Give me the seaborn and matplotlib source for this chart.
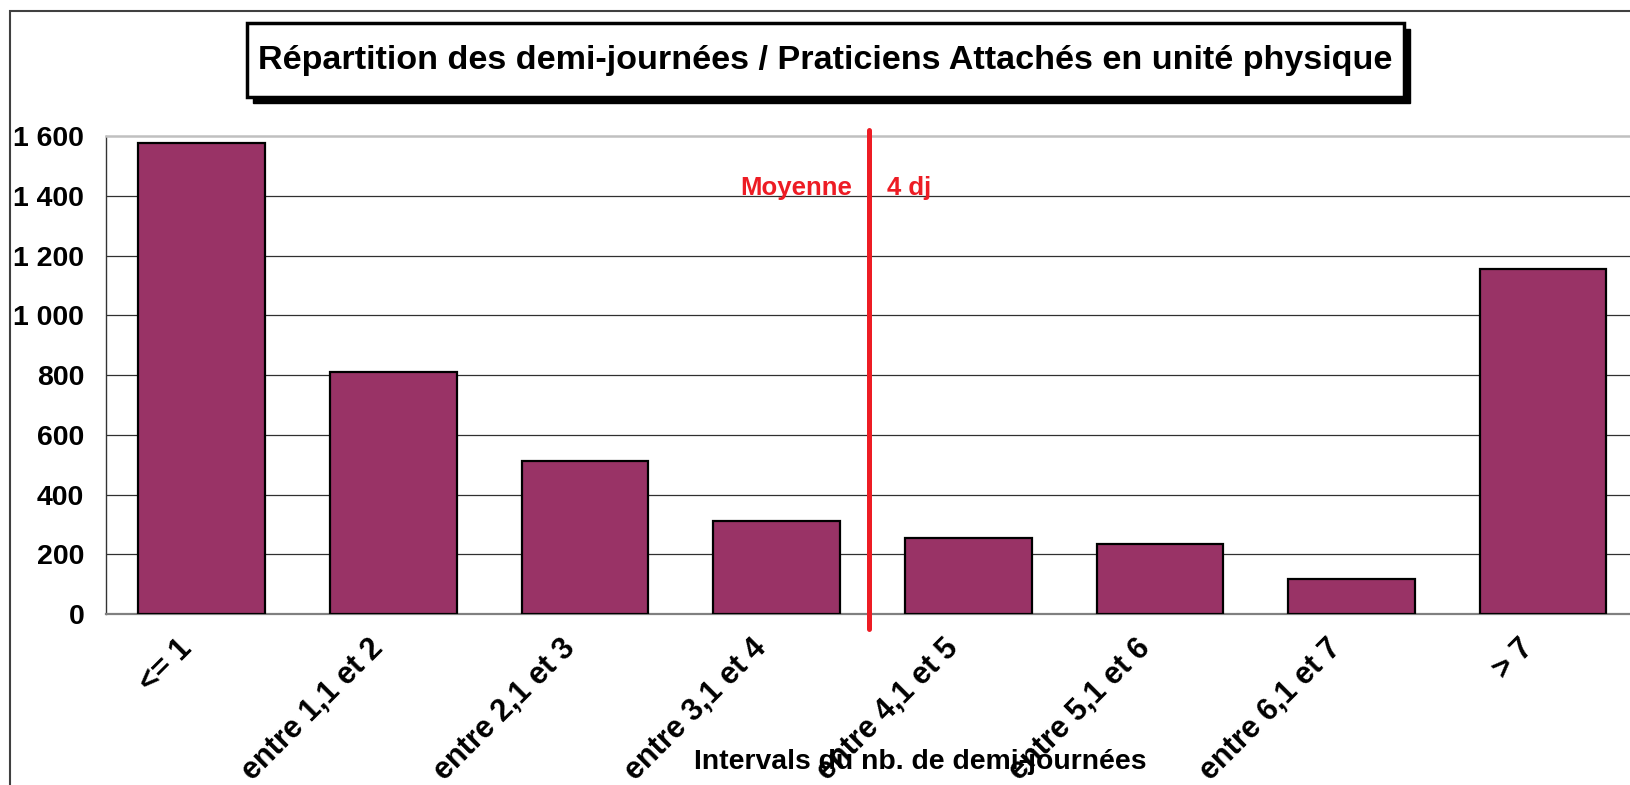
import numpy as np
import matplotlib
matplotlib.use("Agg")
import matplotlib.pyplot as plt
from matplotlib.patches import Rectangle
from matplotlib.ticker import FuncFormatter
from matplotlib.transforms import ScaledTranslation
import seaborn as sns

# data
intervals = ["<= 1", "entre 1,1 et 2", "entre 2,1 et 3", "entre 3,1 et 4",
             "entre 4,1 et 5", "entre 5,1 et 6", "entre 6,1 et 7", "> 7"]
counts = [1576, 809, 511, 310, 253, 236, 116, 1157]
y_ticks = [0, 200, 400, 600, 800, 1000, 1200, 1400, 1600]

title = "Répartition des demi-journées / Praticiens Attachés en unité physique"
xlabel = "Intervals du nb. de demi-journées"
mean_left = "Moyenne"
mean_right = "4 dj"
mean_pos = 3.48          # position of the mean line between categories
mean_span = (-50, 1620)  # vertical extent of the mean line
mean_text_y = 1405

bar_color = "#993366"
red = "#ED1C24"

sns.set_style("white")
plt.rcParams["font.family"] = ["Liberation Sans", "DejaVu Sans"]
plt.rcParams["font.weight"] = "bold"
for k in ["text.color", "axes.labelcolor", "xtick.color", "ytick.color"]:
    plt.rcParams[k] = "black"

W, H = 1630, 785
fig = plt.figure(figsize=(W / 100, H / 100), dpi=100)
ax = fig.add_axes([105.9 / W, 1 - 614 / H, (1639 - 105.9) / W, (614 - 136.3) / H])

sns.barplot(x=intervals, y=counts, color=bar_color, saturation=1,
            edgecolor="black", linewidth=1.6, width=0.66, ax=ax, zorder=3)

ax.set_xlim(-0.5, 7.5)
ax.set_ylim(0, 1600)
ax.set_yticks(y_ticks)
ax.yaxis.set_major_formatter(FuncFormatter(lambda v, p: f"{v:,.0f}".replace(",", " ")))
ax.tick_params(axis="y", direction="inout", length=11, width=1, color="#333333",
               pad=10, labelsize=20.5)
ax.tick_params(axis="x", which="major", length=0, pad=14)
ax.set_xticks(np.arange(-0.5, 8, 1), minor=True)
ax.tick_params(axis="x", which="minor", direction="inout", length=12, width=1,
               color="#555555")
ax.set_xticklabels(intervals, rotation=45, ha="right", va="top",
                   rotation_mode="anchor", fontsize=22, fontweight="bold")
for lab in ax.get_xticklabels():
    lab.set_transform(lab.get_transform() + ScaledTranslation(-0.25, 0, fig.dpi_scale_trans))
for lab in ax.get_yticklabels():
    lab.set_fontweight("bold")
ax.set_xlabel("")
ax.set_ylabel("")

ax.yaxis.grid(True, color="#303030", linewidth=0.9, zorder=0)
ax.set_axisbelow(True)
ax.get_ygridlines()[-1].set_visible(False)

ax.spines["right"].set_visible(False)
ax.spines["top"].set_color("#c0c0c0")
ax.spines["top"].set_linewidth(1.8)
ax.spines["bottom"].set_color("#808080")
ax.spines["bottom"].set_linewidth(1.6)
ax.spines["left"].set_color("#333333")
ax.spines["left"].set_linewidth(1)

# mean line + labels
ax.plot([mean_pos, mean_pos], mean_span, color=red, linewidth=3.6,
        clip_on=False, zorder=5)
ax.text(mean_pos - 0.085, mean_text_y, mean_left, color=red, fontsize=18.5,
        fontweight="bold", ha="right", va="baseline")
ax.text(mean_pos + 0.095, mean_text_y, mean_right, color=red, fontsize=18.5,
        fontweight="bold", ha="left", va="baseline")

# outer frame
fig.patches.append(Rectangle((10 / W, -0.1), 1.2, 1 - 11 / H + 0.1,
                             transform=fig.transFigure, fill=False,
                             edgecolor="#404040", linewidth=1.5))

# title box with shadow
bx0, by0, bx1, by1 = 247, 23, 1404, 97
sh = 6
fig.patches.append(Rectangle(((bx0 + sh) / W, 1 - (by1 + sh) / H),
                             (bx1 - bx0) / W, (by1 - by0) / H,
                             transform=fig.transFigure, facecolor="black",
                             edgecolor="black", linewidth=1))
fig.patches.append(Rectangle((bx0 / W, 1 - by1 / H), (bx1 - bx0) / W, (by1 - by0) / H,
                             transform=fig.transFigure, facecolor="white",
                             edgecolor="black", linewidth=2.5))
fig.text((bx0 + bx1) / 2 / W, 1 - 61 / H, title, fontsize=24.6, fontweight="bold",
         ha="center", va="center")

fig.text(920 / W, 1 - 762 / H, xlabel, fontsize=20.4, fontweight="bold",
         ha="center", va="center")

fig.savefig("out.png", dpi=100)
